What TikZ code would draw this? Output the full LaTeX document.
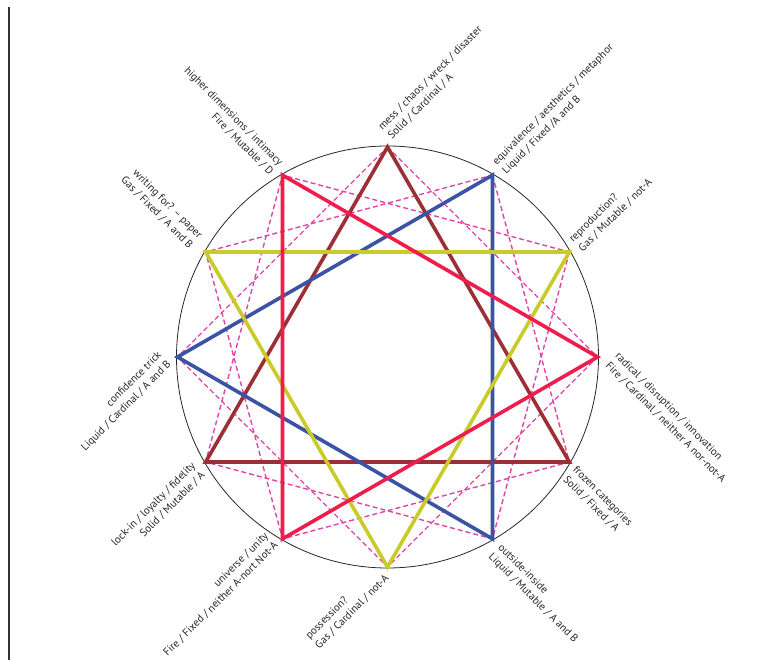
\documentclass[tikz,border=0pt]{standalone}
\usepackage{fontspec}
\setmainfont{PT Sans}
\usetikzlibrary{calc}
\definecolor{cbrown}{HTML}{9B2F35}
\definecolor{cblue}{HTML}{3B53A4}
\definecolor{cyell}{HTML}{C8CB2A}
\definecolor{cred}{HTML}{EE1D4C}
\definecolor{cdash}{HTML}{DE45A6}
\begin{document}
\begin{tikzpicture}[x=1pt,y=1pt,
  tri/.style={line width=3.6pt},
  sq/.style={cdash,line width=1.4pt,dash pattern=on 5pt off 3pt},
  lab/.style={font=\fontsize{10.8}{13.5}\selectfont,inner sep=0pt,text=black!85}]
\useasboundingbox (0,0) rectangle (766,-660);
\draw[black!80,line width=1.3pt] (9,-7) -- (9,-660);
\coordinate (c) at (387.5,-357);
\draw[black!85,line width=0.8pt] (c) circle (211);
\foreach \k in {0,...,11}{
  \coordinate (p\k) at ($(c)+({90-30*\k}:210)$);
}
% dashed squares
\draw[sq] (p0) -- (p3) -- (p6) -- (p9) -- cycle;
\draw[sq] (p1) -- (p4) -- (p7) -- (p10) -- cycle;
\draw[sq] (p2) -- (p5) -- (p8) -- (p11) -- cycle;
% triangles
\draw[tri,cbrown] (p0) -- (p4) -- (p8) -- cycle;
\draw[tri,cblue] (p1) -- (p5) -- (p9) -- cycle;
\draw[tri,cyell] (p2) -- (p6) -- (p10) -- cycle;
\draw[tri,cred] (p3) -- (p7) -- (p11) -- cycle;
% labels
\node[lab,rotate=45,anchor=south west,align=left] (l0) at ($(p0)+(45:8)$) {mess / chaos / wreck / disaster\\Solid / Cardinal / A};
\node[lab,rotate=45,anchor=west,align=left] (l1) at ($(p1)+(45:10)$) {equivalence / aesthetics / metaphor\\Liquid / Fixed /A and B};
\node[lab,rotate=45,anchor=west,align=left] (l2) at ($(p2)+(45:9)$) {reproduction?\\Gas / Mutable / not-A};
\node[lab,rotate=-45,anchor=south west,align=left] (l3) at ($(p3)+(-45:12)+(-135:3)$) {radical / disruption / innovation\\Fire / Cardinal / neither A nor-not-A};
\node[lab,rotate=-45,anchor=north west,align=left] (l4) at ($(p4)+(-45:8)+(45:4)$) {frozen categories\\Solid / Fixed / A};
\node[lab,rotate=-45,anchor=north west,align=left] (l5) at ($(p5)+(-45:10)+(45:5)$) {outside-inside\\Liquid / Mutable / A and B};
\node[lab,rotate=45,anchor=east,align=left] (l6) at ($(p6)+(225:7)$) {possession?\\Gas / Cardinal / not-A};
\node[lab,rotate=45,anchor=south east,align=right] (l7) at ($(p7)+(225:8)+(315:4)$) {universe / unity\\Fire / Fixed / neither A-nort Not-A};
\node[lab,rotate=45,anchor=east,align=right] (l8) at ($(p8)+(225:10)$) {lock-in / loyalty / fidelity\\Solid / Mutable / A};
\node[lab,rotate=45,anchor=south east,align=right] (l9) at ($(p9)+(225:10)+(315:4)$) {confidence trick\\Liquid / Cardinal / A and B};
\node[lab,rotate=-45,anchor=east,align=right] (l10) at ($(p10)+(135:14)$) {writing for? -- paper\\Gas / Fixed / A and B};
\node[lab,rotate=-45,anchor=east,align=right] (l11) at ($(p11)+(135:9)$) {higher dimensions / intimacy\\Fire / Mutable / D};
\end{tikzpicture}
\end{document}
